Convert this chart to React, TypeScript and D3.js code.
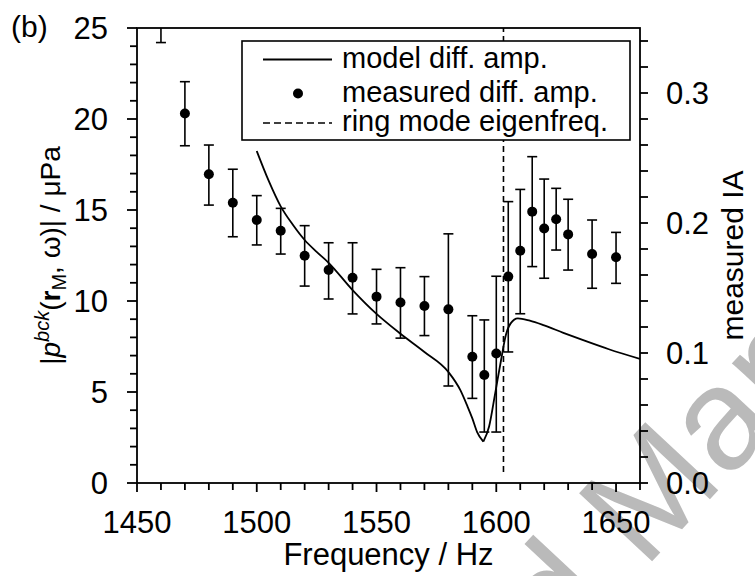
import React from "react";
import * as d3 from "d3";

// ---- data ----
const freqs = [1460, 1470, 1480, 1490, 1500, 1510, 1520, 1530, 1540, 1550, 1560, 1570, 1580, 1590, 1595, 1600, 1605, 1610, 1615, 1620, 1625, 1630, 1640, 1650];
const measured = [26.5, 20.3, 16.96, 15.4, 14.45, 13.86, 12.49, 11.7, 11.28, 10.24, 9.92, 9.73, 9.54, 6.94, 5.93, 7.12, 11.34, 12.76, 14.91, 13.98, 14.49, 13.66, 12.58, 12.4];
const errHigh = [28.8, 22.05, 18.57, 17.24, 15.79, 15.09, 14.14, 13.2, 13.2, 11.74, 11.83, 11.34, 13.69, 9.19, 8.96, 11.36, 15.46, 16.13, 17.93, 16.7, 16.19, 15.59, 14.45, 13.77];
const errLow = [24.2, 18.53, 15.27, 13.53, 13.08, 12.58, 10.82, 10.11, 9.29, 8.74, 7.96, 8.1, 5.33, 4.65, 2.8, 2.8, 7.2, 9.3, 11.89, 11.25, 12.8, 11.7, 10.7, 10.97];

const modelFreq = [1500, 1505, 1510, 1515, 1520, 1525, 1530, 1540, 1550, 1560, 1570, 1580, 1585, 1588, 1590, 1592, 1594.6, 1597, 1599.5, 1602, 1604, 1606, 1609, 1614, 1620, 1628, 1636, 1647, 1660];
const modelAmp = [18.24, 16.6, 15.2, 14.2, 13.35, 12.7, 12.1, 10.6, 9.29, 8.2, 7.2, 6.1, 5.1, 4.2, 3.55, 2.8, 2.27, 3.1, 4.9, 6.76, 8.13, 8.77, 9.05, 8.92, 8.66, 8.25, 7.86, 7.35, 6.82];

const eigenFreq = 1603;
const eigenRange = [0.6, 25];

const xDomain = [1450, 1660];
const yDomain = [0, 25];
const yRightDomain = [0, 0.35];

const legendLabels = ["model diff. amp.", "measured diff. amp.", "ring mode eigenfreq."];

const FONT = "'Liberation Sans', Arial, Helvetica, sans-serif";

export default function App() {
  const L = 137, R = 640, T = 28, B = 483;
  const x = d3.scaleLinear().domain(xDomain).range([L, R]);
  const y = d3.scaleLinear().domain(yDomain).range([B, T]);
  const yR = d3.scaleLinear().domain(yRightDomain).range([B, T]);

  const xMajor = x.ticks(5).filter((v) => v <= 1650);
  const xMinor = d3.range(1450, 1661, 10);
  const yMajor = y.ticks(5);
  const yMinor = y.ticks(25);
  const yRMajor = yR.ticks(4);
  const yRMinor = yR.ticks(20);
  const fmtR = d3.format(".1f");

  const pts = modelFreq.map((f, i) => [f, modelAmp[i]] as [number, number]);
  const minIdx = modelAmp.indexOf(d3.min(modelAmp) as number);
  const line = d3
    .line<[number, number]>()
    .x((d) => x(d[0]))
    .y((d) => y(d[1]))
    .curve(d3.curveMonotoneX);
  const leftPath = line(pts.slice(0, minIdx + 1)) || "";
  const rightPath = line(pts.slice(minIdx)) || "";

  const sw = 1.8;

  // legend geometry
  const lg = { x0: 242, y0: 41, x1: 630, y1: 140 };
  const rows = [59.5, 93.5, 123];

  return (
    <svg
      width={755}
      height={576}
      style={{ position: "absolute", left: 0, top: 0, background: "#fff" }}
      fontFamily={FONT}
    >
      <defs>
        <clipPath id="plotClip">
          <rect x={L} y={T} width={R - L} height={B - T} />
        </clipPath>
      </defs>
      <rect x={0} y={0} width={755} height={576} fill="#fff" />

      {/* watermark */}
      <g transform="translate(644,570) rotate(-47)" fill="#bababa" fontSize={145}>
        <text x={-40} y={0} textAnchor="end">Accepted</text>
        <text x={0} y={0}>Manuscript</text>
      </g>

      {/* vertical eigenfrequency line */}
      <line
        x1={x(eigenFreq)}
        x2={x(eigenFreq)}
        y1={y(eigenRange[0])}
        y2={y(eigenRange[1])}
        stroke="#000"
        strokeWidth={1.6}
        strokeDasharray="6,4"
      />

      {/* model curve */}
      <g clipPath="url(#plotClip)" fill="none" stroke="#000" strokeWidth={1.8}>
        <path d={leftPath} />
        <path d={rightPath} />
      </g>

      {/* measured points with error bars */}
      <g clipPath="url(#plotClip)">
        {freqs.map((f, i) => {
          const cx = x(f);
          return (
            <g key={f} stroke="#000" strokeWidth={1.6}>
              <line x1={cx} x2={cx} y1={y(errLow[i])} y2={y(errHigh[i])} />
              <line x1={cx - 5} x2={cx + 5} y1={y(errLow[i])} y2={y(errLow[i])} />
              <line x1={cx - 5} x2={cx + 5} y1={y(errHigh[i])} y2={y(errHigh[i])} />
              <circle cx={cx} cy={y(measured[i])} r={5} fill="#000" stroke="none" />
            </g>
          );
        })}
      </g>

      {/* legend */}
      <rect x={lg.x0} y={lg.y0} width={lg.x1 - lg.x0} height={lg.y1 - lg.y0} fill="#fff" stroke="#000" strokeWidth={1.6} />
      <line x1={263} x2={332} y1={rows[0]} y2={rows[0]} stroke="#000" strokeWidth={1.8} />
      <circle cx={298} cy={rows[1]} r={5} fill="#000" />
      <line x1={263} x2={332} y1={rows[2]} y2={rows[2]} stroke="#000" strokeWidth={1.6} strokeDasharray="7,4" />
      {legendLabels.map((t, i) => (
        <text key={t} x={342} y={rows[i] + 8} fontSize={29} fill="#000">
          {t}
        </text>
      ))}

      {/* frame */}
      <rect x={L} y={T} width={R - L} height={B - T} fill="none" stroke="#000" strokeWidth={sw} />

      {/* ticks */}
      <g stroke="#000" strokeWidth={sw}>
        {yMinor.map((v) => (
          <line key={"ym" + v} x1={L} x2={L - (yMajor.includes(v) ? 10 : 7)} y1={y(v)} y2={y(v)} />
        ))}
        {xMinor.map((v) => (
          <line key={"xm" + v} x1={x(v)} x2={x(v)} y1={B} y2={B + (xMajor.includes(v) ? 9 : 7)} />
        ))}
        {yRMinor.map((v) => (
          <line key={"yr" + v} x1={R} x2={R + 8} y1={yR(v)} y2={yR(v)} />
        ))}
      </g>

      {/* tick labels */}
      <g fontSize={31} fill="#000">
        {yMajor.map((v) => (
          <text key={"yl" + v} x={108} y={y(v)} dy="0.36em" textAnchor="end">
            {v}
          </text>
        ))}
        {xMajor.map((v) => (
          <text key={"xl" + v} x={x(v)} y={533} textAnchor="middle">
            {v}
          </text>
        ))}
        {yRMajor.map((v) => (
          <text key={"yrl" + v} x={666} y={yR(v)} dy="0.36em" textAnchor="start">
            {fmtR(v)}
          </text>
        ))}
      </g>

      {/* axis titles */}
      <text x={(L + R) / 2} y={565} fontSize={31} textAnchor="middle" fill="#000">
        Frequency / Hz
      </text>
      <text transform={`translate(743,${(T + B) / 2}) rotate(-90)`} fontSize={30} textAnchor="middle" fill="#000">
        measured IA
      </text>
      <text transform={`translate(60,${(T + B) / 2}) rotate(-90)`} fontSize={28} textAnchor="middle" fill="#000">
        <tspan>|</tspan>
        <tspan fontStyle="italic">p</tspan>
        <tspan fontStyle="italic" fontSize={20} dy={-11}>bck</tspan>
        <tspan dy={11}>(</tspan>
        <tspan fontWeight="bold">r</tspan>
        <tspan fontSize={20} dy={6}>M</tspan>
        <tspan dy={-6}>, ω)| / μPa</tspan>
      </text>

      {/* panel label */}
      <text x={11} y={37} fontSize={30} fill="#000">
        (b)
      </text>
    </svg>
  );
}
